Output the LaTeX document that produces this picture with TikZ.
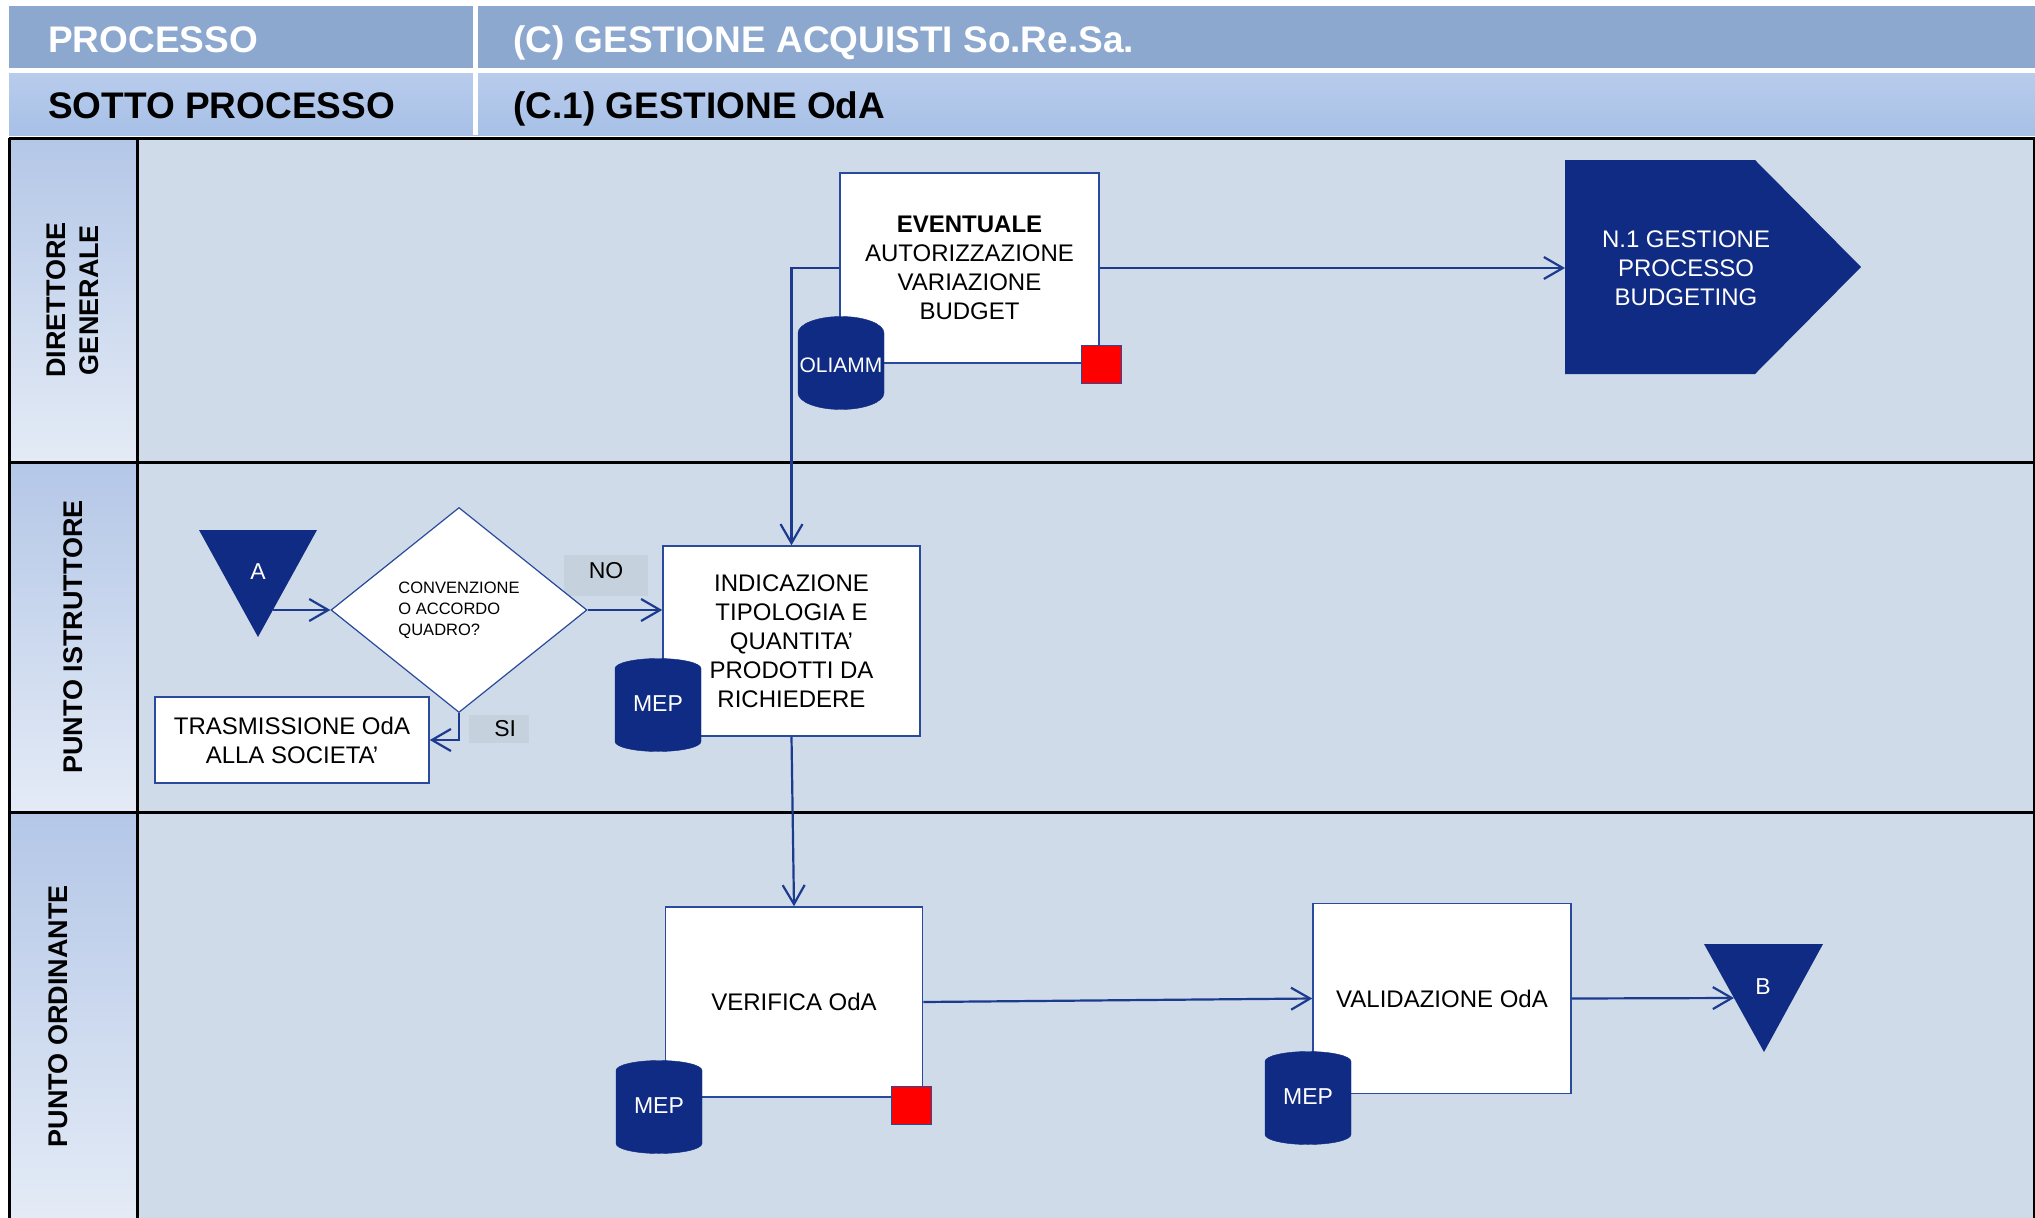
\documentclass[tikz,border=0pt]{standalone}
\usepackage{fontspec}
\setmainfont{Liberation Sans}
\usepackage{tikz}
\usetikzlibrary{shapes.geometric}
\usetikzlibrary{arrows.meta}
\tikzset{>={Straight Barb[length=19pt,width=22pt]}}
\definecolor{navy}{HTML}{0F2B83}
\definecolor{linkblue}{HTML}{1C3A8E}
\definecolor{boxblue}{HTML}{2A4A9C}
\definecolor{lanebg}{HTML}{CFDBE9}
\definecolor{lanetop}{HTML}{B4C7E7}
\definecolor{lanebot}{HTML}{E4EBF6}
\definecolor{headdark}{HTML}{8CA8CE}
\definecolor{headtop}{HTML}{B8CCEC}
\definecolor{headbot}{HTML}{A8C0E7}
\definecolor{tag}{HTML}{C6D1DE}
\definecolor{stopred}{HTML}{FF0000}
\newcommand{\FS}[2]{\fontsize{#1}{#2}\selectfont}
\tikzset{
  activity/.style={draw=boxblue, line width=1.5pt, fill=white, inner sep=0pt,
    align=center, font=\FS{24}{29}},
  dbase/.style={cylinder, shape border rotate=90, aspect=0.4, draw=navy,
    fill=navy, text=white, inner sep=0pt, minimum width=86pt,
    minimum height=93pt, anchor=shape center, text height=17pt,
    text depth=15pt, font=\FS{23}{26}},
  alarm/.style={draw=boxblue, line width=1pt, fill=stopred, minimum width=40pt,
    minimum height=38pt, inner sep=0pt},
  decision/.style={diamond, aspect=1.25, draw=boxblue, line width=1.2pt,
    fill=white, inner sep=0pt, align=left, minimum width=256pt,
    minimum height=205pt, font=\FS{16.5}{21}},
  answer/.style={fill=tag, inner sep=0pt, font=\FS{23}{26}},
  onnavy/.style={text=white, align=center, inner sep=0pt},
  lanename/.style={rotate=90, align=center, font=\FS{27}{33}\bfseries},
  headname/.style={anchor=base west, inner sep=0pt, font=\FS{37}{40}\bfseries},
  flow/.style={draw=linkblue, line width=2.2pt},
  lanerule/.style={line width=3pt, black},
}

\begin{document}
\begin{tikzpicture}[x=1pt,y=-1pt]

\useasboundingbox (0,0) rectangle (2035,1218);

%% header
\fill[headdark] (9,6) rectangle (2035,68);
\shade[top color=headtop,bottom color=headbot] (9,73) rectangle (2035,135);
\fill[white] (473,6) rectangle (478,135);
\node[headname,text=white] (proc) at (48,52) {PROCESSO};
\node[headname,text=white] (procname) at (513,52) {(C) GESTIONE ACQUISTI So.Re.Sa.};
\node[headname] (sub) at (48,118) {SOTTO PROCESSO};
\node[headname] (subname) at (513,118) {(C.1) GESTIONE OdA};

%% lanes
\fill[lanebg] (137,138) rectangle (2035,1218);
\foreach \t/\b in {138/462,462/812,812/1218}
  \shade[top color=lanetop,bottom color=lanebot] (9,\t) rectangle (137,\b);
\foreach \y in {138,462,812} \draw[lanerule] (9,\y) -- (2035,\y);
\foreach \x in {9,137,2034} \draw[lanerule] (\x,138) -- (\x,1218);

\node[lanename] (dg) at (73,300) {DIRETTORE\\GENERALE};
\node[lanename] (pi) at (73,637) {PUNTO ISTRUTTORE};
\node[lanename] (po) at (58,1016) {PUNTO ORDINANTE};

%% direttore generale
\node[activity, minimum width=259pt, minimum height=190pt] (ev) at (969.5,268)
  {\textbf{EVENTUALE}\\AUTORIZZAZIONE\\VARIAZIONE\\BUDGET};
\node[dbase, font=\FS{21}{24}] (oliamm) at (841,363) {OLIAMM};
\node[alarm] (red1) at (1101,364) {};
\fill[navy] (1686,268) node[onnavy, font=\FS{24}{29}] (budget)
  {N.1 GESTIONE\\PROCESSO\\BUDGETING}
  +(-121,-108) -- +(69,-108) -- +(175,-1) -- +(69,106) -- +(-121,106) -- cycle;
\coordinate (budgetin) at (1565,268);

%% punto istruttore
\fill[navy] (258,572) node[onnavy, font=\FS{23}{26}] (A) {A}
  +(-59,-42) -- +(59,-42) -- +(0,65) -- cycle;
\coordinate (Aout) at (273,610);
\node[answer, minimum width=84pt, minimum height=41pt, text height=17pt,
  text depth=10pt] (no) at (606,575) {NO};
\node[answer, minimum width=60pt, minimum height=28pt, text width=34pt,
  align=right, inner xsep=13pt] (si) at (499,729) {SI};
\node[decision] (conv) at (459,610) {CONVENZIONE\\O ACCORDO\\QUADRO?};
\node[activity, minimum width=274pt, minimum height=86pt] (trasm) at (292,740)
  {TRASMISSIONE OdA\\ALLA SOCIETA’};
\node[activity, minimum width=257pt, minimum height=190pt] (ind) at (791.5,641)
  {INDICAZIONE\\TIPOLOGIA E\\QUANTITA’\\PRODOTTI DA\\RICHIEDERE};
\node[dbase] (mep1) at (658,705) {MEP};

%% punto ordinante
\node[activity, minimum width=257pt, minimum height=190pt] (ver) at (794,1002)
  {VERIFICA OdA};
\node[dbase] (mep2) at (659,1107) {MEP};
\node[alarm] (red2) at (911,1105) {};
\node[activity, minimum width=258pt, minimum height=190pt] (val) at (1442,998.5)
  {VALIDAZIONE OdA};
\node[dbase] (mep3) at (1308,1098) {MEP};
\fill[navy] (1763,987) node[onnavy, font=\FS{23}{26}] (B) {B}
  +(-59,-43) -- +(60,-43) -- +(1,65) -- cycle;
\coordinate (Bin) at (1734,998);

%% flows
\draw[flow,->] (ev.east) -- (budgetin);
\draw[flow,->] (ev.west) -| (ind.north);
\draw[flow,->] (Aout) -- (conv.west);
\draw[flow,->] (conv.east) -- (conv.east -| ind.west);
\draw[flow,->] (conv.south) |- (trasm.east);
\draw[flow,->] (ind.south) -- (ver.north);
\draw[flow,->] (ver.east) -- (val.west);
\draw[flow,->] (val.east) -- (Bin);

\end{tikzpicture}
\end{document}
